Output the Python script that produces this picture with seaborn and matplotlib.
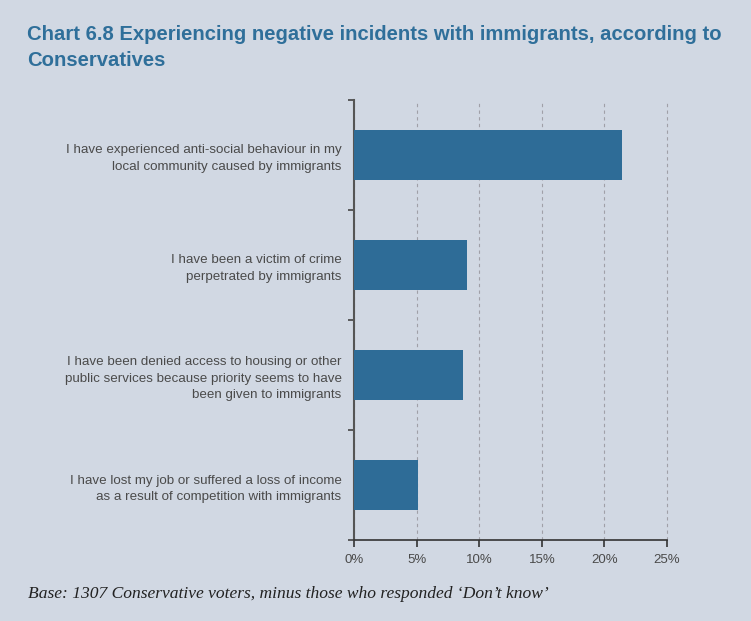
import numpy as np
import pandas as pd
import matplotlib
matplotlib.use("Agg")
import matplotlib.pyplot as plt
import seaborn as sns

# Datos del gráfico
categorias = [
    "I have experienced anti-social behaviour in my\nlocal community caused by immigrants",
    "I have been a victim of crime\nperpetrated by immigrants",
    "I have been denied access to housing or other\npublic services because priority seems to have\nbeen given to immigrants",
    "I have lost my job or suffered a loss of income\nas a result of competition with immigrants",
]
valores = [21.4, 9.0, 8.7, 5.1]
ticks_x = [0, 5, 10, 15, 20, 25]

titulo = "Chart 6.8 Experiencing negative incidents with immigrants, according to\nConservatives"
nota = "Base: 1307 Conservative voters, minus those who responded \u2018Don\u2019t know\u2019"

fondo = "#d1d8e3"
azul = "#2e6c97"
gris_texto = "#4a4a4a"

sns.set_style("white")
plt.rcParams['font.family'] = ['Liberation Sans', 'DejaVu Sans']

df = pd.DataFrame({"categoria": categorias, "valor": valores})

fig = plt.figure(figsize=(7.51, 6.21), dpi=100, facecolor=fondo)
ax = fig.add_axes([0.4714, 0.1304, 0.4168, 0.7086])
ax.set_facecolor(fondo)

sns.barplot(data=df, x="valor", y="categoria", orient="h", color=azul,
            width=0.46, saturation=1, linewidth=0, edgecolor="none",
            ax=ax, zorder=3)

ax.set_xlim(0, 25)
ax.set_ylim(3.5, -0.5)
ax.set_xticks(ticks_x)
ax.set_xticklabels([f"{t}%" for t in ticks_x], fontsize=9.5, color=gris_texto)
ax.set_xlabel("")
ax.set_ylabel("")

# Etiquetas de categoría
ax.set_yticks(range(len(categorias)))
ax.set_yticklabels(categorias, fontsize=9.6, color=gris_texto, linespacing=1.45)
ax.tick_params(axis="y", which="major", length=0, pad=9)
for lab in ax.get_yticklabels():
    lab.set_horizontalalignment("right")

# Marcas en los límites de categoría
ax.set_yticks(np.arange(-0.5, len(categorias), 1.0), minor=True)
ax.tick_params(axis="y", which="minor", left=True, length=4, width=1.2,
               color="#444444", direction="out")
ax.tick_params(axis="x", which="major", bottom=True, length=5, width=1.2,
               color="#333333", direction="out", pad=5)

# Rejilla vertical punteada
ax.grid(axis="x", which="major", linestyle=(0, (3, 3)), color="#a0a0a8",
        linewidth=0.8, zorder=0)
ax.grid(axis="y", visible=False)
for linea in ax.get_xgridlines():
    linea.set_clip_on(False)

for lado in ["top", "right"]:
    ax.spines[lado].set_visible(False)
ax.spines["left"].set_color("#555555")
ax.spines["left"].set_linewidth(1.5)
ax.spines["bottom"].set_color("#333333")
ax.spines["bottom"].set_linewidth(1.2)

fig.text(27 / 751, 1 - 25 / 621, titulo, fontsize=14.6, fontweight="bold",
         color="#2f6f9a", ha="left", va="top", multialignment="left",
         linespacing=1.5)
fig.text(28 / 751, 1 - 594 / 621, nota, fontsize=12.6, style="italic",
         family=["Liberation Serif", "DejaVu Serif"], color="#222222",
         ha="left", va="center")

fig.savefig("out.png", dpi=100, facecolor=fondo)
